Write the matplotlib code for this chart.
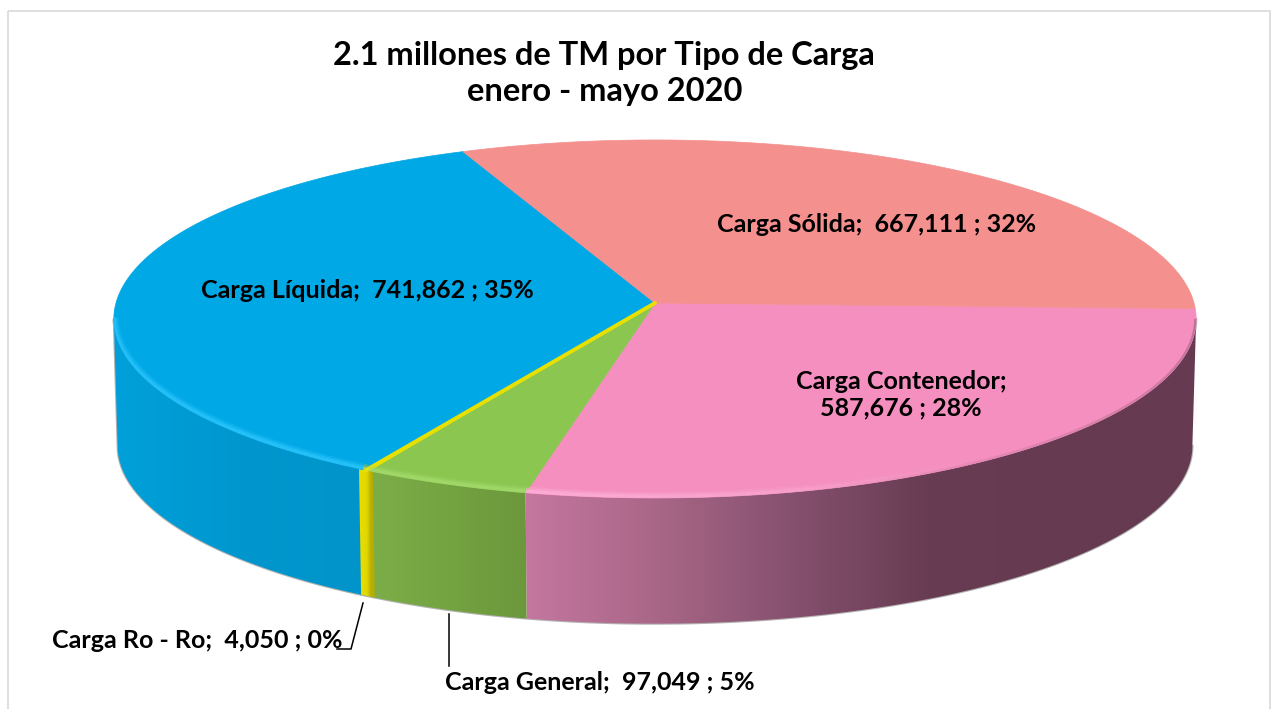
#!/usr/bin/env python
import numpy as np
import matplotlib
matplotlib.use('Agg')
import matplotlib.pyplot as plt
from matplotlib.collections import LineCollection
from matplotlib.colors import LinearSegmentedColormap, to_rgb
from matplotlib.patches import Polygon, Rectangle

plt.rcParams['font.family'] = ['Lato', 'DejaVu Sans']

# clockwise from the right edge of the pie
names = ['Carga Contenedor', 'Carga General', 'Carga Ro - Ro', 'Carga Líquida', 'Carga Sólida']
values = [587676, 97049, 4050, 741862, 667111]
percents = [28, 5, 0, 35, 32]
title_lines = ['2.1 millones de TM por Tipo de Carga', 'enero - mayo 2020']

top_colors = ['#f48fbf', '#8bc651', '#e8e000', '#00a8e6', '#f4908e']
side_stops = [['#c4779f', '#a86686', '#85506e', '#683c52', '#663a50', '#663a50'],
              ['#7cae48', '#6c983c'],
              ['#e6dc00', '#e6dc00', '#e0d600', '#b8ad00', '#b8ad00'],
              ['#00a0da', '#0097ce', '#0094ca'],
              ['#f4908e', '#f4908e']]
rim_colors = ['#ffb4dc', '#a8df70', '#f5f040', '#30c8ff', '#f4908e']

# pie geometry in pixels
CX, CY = 655, 303
A, B, K = 539, 177.6, 0.0893
DEPTH = 127
SHRINK = 0.993
START = -1.8
RO_WALL = 1.6  # drawn width of the Ro-Ro wall, degrees
# angles where the outline is widest, the wall is only seen between them
EDGE_R = -np.degrees(np.arcsin(K))
EDGE_L = -180 - EDGE_R


def project(deg, shrink=1.0, drop=0.0):
    t = np.radians(deg)
    u, v = np.cos(t), np.sin(t)
    d = 1 + K * v
    x = CX + shrink * A * u / d
    y = CY - shrink * B * v / d + drop
    return x, y


fig = plt.figure(figsize=(12.8, 7.09), dpi=100)
ax = fig.add_axes([0, 0, 1, 1])
ax.axis('off')

ax.add_patch(Rectangle((7.5, 10.5), 1262, 700, fill=False, ec='#d9d9d9', lw=1.2))

sweeps = np.array(values) / sum(values) * 360
ends = START - np.cumsum(sweeps)
starts = ends + sweeps
ro = names.index('Carga Ro - Ro')
ro_mid = (starts[ro] + ends[ro]) / 2

# soft grey edge round the body of the pie
sil = np.linspace(EDGE_R, EDGE_L, 200)
xa, ya = project(sil, 1.0, 0)
xb, yb = project(sil[::-1], SHRINK, DEPTH)
ax.plot(np.r_[xa, xb], np.r_[ya, yb], color='#808080', lw=1.6, alpha=0.6, zorder=1)

# side walls, only the part that faces the viewer
for i in range(len(values)):
    hi, lo = starts[i], ends[i]
    if i == ro:
        hi, lo = ro_mid + RO_WALL / 2, ro_mid - RO_WALL / 2
    hi, lo = min(hi, EDGE_R), max(lo, EDGE_L)
    if hi <= lo:
        continue
    t = np.linspace(hi, lo, 80)
    xa, ya = project(t)
    xb, yb = project(t[::-1], SHRINK, DEPTH)
    poly = Polygon(np.c_[np.r_[xa, xb], np.r_[ya, yb]], closed=True, fc='none', ec='none')
    ax.add_patch(poly)
    cmap = LinearSegmentedColormap.from_list(f'side{i}', side_stops[i])
    x0, x1 = min(xa.min(), xb.min()), max(xa.max(), xb.max())
    im = ax.imshow(np.linspace(0, 1, 256).reshape(1, -1), cmap=cmap, aspect='auto',
                   extent=(x0, x1, 640, 300), zorder=2.5 if i == ro else 2)
    im.set_clip_path(poly)
ax.set_xlim(0, 1280)
ax.set_ylim(709, 0)

# top face
for i in range(len(values)):
    t = np.linspace(starts[i], ends[i], 200)
    xa, ya = project(t)
    ax.add_patch(Polygon(np.c_[np.r_[CX, xa], np.r_[CY, ya]], closed=True,
                         fc=top_colors[i], ec=top_colors[i], lw=0.5, zorder=3))

# Ro-Ro wedge is barely a sliver, the reference keeps it as a line
xm, ym = project(ro_mid)
ax.plot([CX, xm], [CY, ym], color=top_colors[ro], lw=2.8, zorder=4, solid_capstyle='round')

# bevel highlight along the front rim, kept inside the top face
xa, ya = project(np.linspace(0, 360, 400))
face = Polygon(np.c_[xa, ya], closed=True, fc='none', ec='none', zorder=3)
ax.add_patch(face)
for i in range(len(values)):
    hi, lo = min(starts[i], EDGE_R), max(ends[i], EDGE_L)
    if hi <= lo:
        continue
    t = np.linspace(hi, lo, 120)
    xa, ya = project(t)
    pts = np.c_[xa, ya - 1.5]
    segs = np.stack([pts[:-1], pts[1:]], axis=1)
    fade = np.clip((1000 - (xa[:-1] + xa[1:]) / 2) / 450, 0, 1)
    rgb = to_rgb(rim_colors[i])
    for lw, a in [(7, 0.25), (4.5, 0.35), (2.5, 0.5)]:
        cols = [(rgb[0], rgb[1], rgb[2], a * f) for f in fade]
        lc = LineCollection(segs, colors=cols, linewidths=lw, zorder=5, capstyle='butt')
        ax.add_collection(lc)
        lc.set_clip_path(face)

# dark soft edge where the pink top meets the shaded wall, fading out to the left
t = np.linspace(EDGE_R, -75, 120)
xa, ya = project(t)
pts = np.c_[xa, ya]
segs = np.stack([pts[:-1], pts[1:]], axis=1)
fade = np.linspace(1, 0, len(segs))
rgb = to_rgb('#8a5070')
edge = LineCollection(segs, colors=[(rgb[0], rgb[1], rgb[2], 0.5 * f) for f in fade],
                      linewidths=3.0, zorder=5, capstyle='butt')
ax.add_collection(edge)
edge.set_clip_path(face)


# labels
def label(i):
    return f'{names[i]};  {values[i]:,} ; {percents[i]}%'


lab_kw = dict(fontsize=18, fontweight='bold', color='black', zorder=6, ha='center', va='center')
ax.text(877, 225, label(4), **lab_kw)
ax.text(367, 291, label(3), **lab_kw)
ax.text(901, 395, f'{names[0]};\n{values[0]:,} ; {percents[0]}%', linespacing=1.2, **lab_kw)
ax.text(197, 641, label(2), **lab_kw)
ax.text(600, 683, label(1), **lab_kw)

ax.plot([449, 449], [614, 666], color='black', lw=1.1, zorder=6)
ax.plot([363, 351, 337], [603, 649, 649], color='black', lw=1.1, zorder=6)

ax.text(604, 55, title_lines[0], fontsize=23.5, fontweight='bold', ha='center', va='center')
ax.text(605, 92, title_lines[1], fontsize=23.5, fontweight='bold', ha='center', va='center')

fig.savefig('out.png', dpi=100)
